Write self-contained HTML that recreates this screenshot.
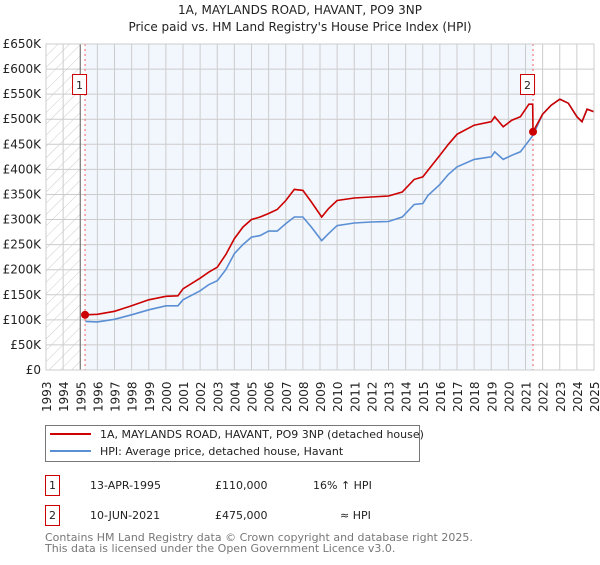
<!DOCTYPE html>
<html><head><meta charset="utf-8"><style>
body{margin:0;background:#fff;font-family:"Liberation Sans","DejaVu Sans",sans-serif;}
svg text{font-family:"DejaVu Sans","Liberation Sans",sans-serif;}
</style></head><body>
<svg width="600" height="560" viewBox="0 0 600 560">
<defs><pattern id="hatch" width="8" height="8" patternUnits="userSpaceOnUse" patternTransform="rotate(45)"><line x1="0" y1="0" x2="0" y2="8" stroke="#ccc" stroke-width="1"/></pattern></defs>
<text x="300" y="14" text-anchor="middle" font-size="12" fill="#222">1A, MAYLANDS ROAD, HAVANT, PO9 3NP</text>
<text x="300" y="31" text-anchor="middle" font-size="12" fill="#222">Price paid vs. HM Land Registry's House Price Index (HPI)</text>
<g id="plot"></g>
<g id="legend">
<rect x="45.5" y="425.5" width="374" height="36" fill="#fff" stroke="#777"/>
<line x1="50" y1="434" x2="91" y2="434" stroke="#cc0000" stroke-width="2"/>
<text x="100" y="438" font-size="11" fill="#222">1A, MAYLANDS ROAD, HAVANT, PO9 3NP (detached house)</text>
<line x1="50" y1="451" x2="91" y2="451" stroke="#5b8fd4" stroke-width="2"/>
<text x="100" y="455" font-size="11" fill="#222">HPI: Average price, detached house, Havant</text>
</g>
<g font-size="11" fill="#222">
<rect x="45.5" y="475.5" width="14" height="20" fill="#fff" stroke="#cc0000"/>
<text x="52.5" y="489" text-anchor="middle">1</text>
<text x="90" y="489">13-APR-1995</text>
<text x="215" y="489">£110,000</text>
<text x="313" y="489">16% ↑ HPI</text>
<rect x="45.5" y="505.5" width="14" height="20" fill="#fff" stroke="#cc0000"/>
<text x="52.5" y="519" text-anchor="middle">2</text>
<text x="90" y="519">10-JUN-2021</text>
<text x="215" y="519">£475,000</text>
<text x="340" y="519">≈ HPI</text>
</g>
<text x="45" y="541" font-size="11" fill="#777">Contains HM Land Registry data © Crown copyright and database right 2025.</text>
<text x="45" y="552" font-size="11" fill="#777">This data is licensed under the Open Government Licence v3.0.</text>
</svg>
<script>
const years=[1993,1994,1995,1996,1997,1998,1999,2000,2001,2002,2003,2004,2005,2006,2007,2008,2009,2010,2011,2012,2013,2014,2015,2016,2017,2018,2019,2020,2021,2022,2023,2024,2025];
const yTicks=[0,50,100,150,200,250,300,350,400,450,500,550,600,650];
const yTickLabels=["£0","£50K","£100K","£150K","£200K","£250K","£300K","£350K","£400K","£450K","£500K","£550K","£600K","£650K"];
const hpiT=[1995.3,1996,1997,1998,1999,2000,2000.7,2001,2002,2002.5,2003,2003.5,2004,2004.5,2005,2005.5,2006,2006.5,2007,2007.5,2008,2008.5,2009.1,2009.5,2010,2011,2012,2013,2013.8,2014.5,2015,2015.3,2016,2016.5,2017,2018,2019,2019.2,2019.7,2020.2,2020.7,2021.44,2022,2022.5,2023,2023.5,2024,2024.3,2024.6,2025];
const hpiV=[97,96,101,110,120,128,128,140,158,170,178,200,232,250,265,268,277,277,292,305,305,285,258,272,288,293,295,296,305,330,332,348,370,390,405,420,425,435,420,428,435,468,510,528,540,532,505,495,520,515];
const redT=[1995.28,1996,1997,1998,1999,2000,2000.7,2001,2002,2002.5,2003,2003.5,2004,2004.5,2005,2005.5,2006,2006.5,2007,2007.5,2008,2008.5,2009.1,2009.5,2010,2011,2012,2013,2013.8,2014.5,2015,2015.3,2016,2016.5,2017,2018,2019,2019.2,2019.7,2020.2,2020.7,2021.2,2021.42,2021.44,2022,2022.5,2023,2023.5,2024,2024.3,2024.6,2025];
const redV=[110,111,117,128,140,147,148,162,183,195,205,230,262,285,300,305,312,320,338,360,358,335,305,322,338,343,345,347,355,380,385,398,428,450,470,488,495,505,485,498,505,530,530,475,510,528,540,532,505,495,520,515];
const saleT=[1995.28,2021.44];
const saleV=[110,475];
const saleLabels=["1","2"];

const X0=46,X1=594,Y0=370,Y1=44;
const x=t=>X0+(t-1993)/(2025-1993)*(X1-X0);
const y=v=>Y0-v/650*(Y0-Y1);
const NS="http://www.w3.org/2000/svg";
const g=document.getElementById('plot');
function mk(tag,attrs,parent){const e=document.createElementNS(NS,tag);for(const k in attrs)e.setAttribute(k,attrs[k]);(parent||g).appendChild(e);return e;}

let r=mk('rect',{x:x(1995.28),y:Y1,width:x(saleT[1])-x(1995.28),height:Y0-Y1,fill:'#f2f6fd'});


r=mk('rect',{x:X0,y:Y1,width:x(1995)-X0,height:Y0-Y1,fill:'url(#hatch)'});



years.forEach(yr=>{
  const l=mk('line',{x1:x(yr),x2:x(yr),y1:Y1,y2:Y0,stroke:'#ccc','stroke-width':1});
  
  
  const t=mk('text',{transform:`translate(${x(yr)+5},412) rotate(-90)`,'font-size':'12',fill:'#222'});
  t.textContent=yr;
  
  
});
yTicks.forEach((v,i)=>{
  const l=mk('line',{x1:X0,x2:X1,y1:y(v),y2:y(v),stroke:'#ccc','stroke-width':1});
  
  
  const t=mk('text',{x:41,y:y(v)+4,'text-anchor':'end','font-size':'12',fill:'#222'});
  t.textContent=yTickLabels[i];
  
  
});
let ax=mk('line',{x1:x(1995),x2:x(1995),y1:Y1,y2:Y0,stroke:'#666','stroke-width':1});



saleT.forEach((t,i)=>{
  const l=mk('line',{x1:x(t),x2:x(t),y1:Y1,y2:Y0,stroke:'#f06060','stroke-width':1,'stroke-dasharray':'2,3'});
  
  
});

function path(T,V){return T.map((t,i)=>(i?'L':'M')+x(t).toFixed(1)+','+y(V[i]).toFixed(1)).join('');}
let p=mk('path',{d:path(hpiT,hpiV),fill:'none',stroke:'#5b8fd4','stroke-width':1.6});


p=mk('path',{d:path(redT,redV),fill:'none',stroke:'#cc0000','stroke-width':1.6});



saleT.forEach((t,i)=>{
  const c=mk('circle',{cx:x(t),cy:y(saleV[i]),r:4,fill:'#cc0000'});
  
  
  const bx=x(t)-12;
  const b=mk('rect',{x:bx-0.5,y:74.5,width:14,height:20,fill:'#fff',stroke:'#cc0000'});
  
  
  const tx=mk('text',{x:bx+6.5,y:89,'text-anchor':'middle','font-size':'11',fill:'#222'});
  tx.textContent=saleLabels[i];
  
  
});
let fr=mk('rect',{x:X0,y:Y1,width:X1-X0,height:Y0-Y1,fill:'none',stroke:'#ccc'});


</script>
</body></html>
